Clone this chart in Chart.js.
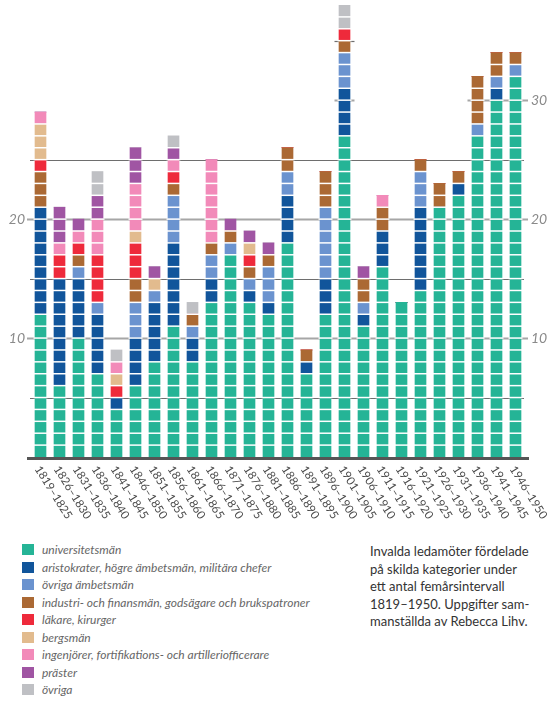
<!DOCTYPE html>
<html>
<head>
<meta charset="utf-8">
<script src="https://cdn.jsdelivr.net/npm/chart.js@4.4.0/dist/chart.umd.min.js"></script>
<style>
  html, body { margin: 0; padding: 0; background: #fff; }
  body { width: 549px; height: 703px; position: relative; overflow: hidden; }
  #chart { position: absolute; left: 0; top: 0; }
  #legend { position: absolute; left: 22px; top: 541px; font-family: Lato, sans-serif; font-style: italic; font-size: 12px; color: #666; }
  #legend div { height: 17.5px; line-height: 17.5px; display: flex; align-items: center; white-space: nowrap; }
  #legend span { display: inline-block; width: 12px; height: 11px; margin-right: 8px; }
  #caption { position: absolute; left: 370px; top: 543px; font-family: Lato, sans-serif; font-size: 13px; line-height: 17.6px; color: #333; }
</style>
</head>
<body>
<canvas id="chart" width="549" height="540"></canvas>
<div id="legend"></div>
<div id="caption">Invalda ledamöter fördelade<br>på skilda kategorier under<br>ett antal femårsintervall<br>1819–1950. Uppgifter sam-<br>manställda av Rebecca Lihv.</div>
<script>
const periods = ['1819–1825', '1826–1830', '1831–1835', '1836–1840', '1841–1845', '1846–1850',
  '1851–1855', '1856–1860', '1861–1865', '1866–1870', '1871–1875', '1876–1880', '1881–1885',
  '1886–1890', '1891–1895', '1896–1900', '1901–1905', '1906–1910', '1911–1915', '1916–1920',
  '1921–1925', '1926–1930', '1931–1935', '1936–1940', '1941–1945', '1946–1950'];

const categories = ['universitetsmän', 'aristokrater, högre ämbetsmän, militära chefer', 'övriga ämbetsmän',
  'industri- och finansmän, godsägare och brukspatroner', 'läkare, kirurger', 'bergsmän',
  'ingenjörer, fortifikations- och artilleriofficerare', 'präster', 'övriga'];

const colors = ['#25b496', '#11559b', '#6b93cf', '#ab6934', '#ee2a3b', '#e2bb8e', '#f28ab9', '#a055a3', '#bfc0c4'];

const universitetsman = [12, 6, 10, 7, 4, 6, 8, 11, 8, 13, 17, 13, 12, 18, 7, 12, 27, 11, 16, 13, 14, 21, 22, 27, 30, 32];
const aristokrater    = [9, 9, 5, 5, 1, 4, 5, 7, 2, 2, 0, 1, 1, 4, 1, 3, 4, 1, 3, 0, 7, 0, 1, 0, 1, 0];
const ovrigaAmbetsman = [0, 0, 1, 1, 0, 3, 1, 4, 1, 2, 1, 1, 3, 2, 0, 6, 3, 1, 0, 0, 3, 0, 0, 1, 1, 1];
const industri        = [3, 0, 1, 0, 0, 2, 0, 1, 1, 1, 1, 1, 1, 2, 1, 3, 1, 2, 2, 0, 1, 2, 1, 4, 2, 1];
const lakare          = [1, 2, 1, 4, 1, 3, 0, 1, 0, 0, 0, 1, 0, 0, 0, 0, 1, 0, 0, 0, 0, 0, 0, 0, 0, 0];
const bergsman        = [3, 0, 0, 0, 1, 1, 1, 0, 0, 0, 0, 1, 0, 0, 0, 0, 0, 0, 0, 0, 0, 0, 0, 0, 0, 0];
const ingenjorer      = [1, 1, 1, 3, 1, 4, 0, 1, 0, 7, 0, 0, 0, 0, 0, 0, 0, 0, 1, 0, 0, 0, 0, 0, 0, 0];
const praster         = [0, 3, 1, 2, 0, 3, 1, 1, 0, 0, 1, 1, 1, 0, 0, 0, 0, 1, 0, 0, 0, 0, 0, 0, 0, 0];
const ovriga          = [0, 0, 0, 2, 1, 0, 0, 1, 1, 0, 0, 0, 0, 0, 0, 0, 2, 0, 0, 0, 0, 0, 0, 0, 0, 0];

const series = [universitetsman, aristokrater, ovrigaAmbetsman, industri, lakare, bergsman, ingenjorer, praster, ovriga];

const gridValues = [5, 10, 15, 20, 25, 30, 35];
const leftLabels = [10, 20];
const rightLabels = [10, 20, 30];

const totals = periods.map((p, i) => series.reduce((s, d) => s + d[i], 0));

const gridPlugin = {
  id: 'grid',
  beforeDatasetsDraw(chart) {
    const { ctx, chartArea, scales: { x, y } } = chart;
    const half = 5.5, ext = 4.5;
    ctx.save();
    gridValues.forEach(v => {
      const py = Math.round(y.getPixelForValue(v)) + 0.5;
      const major = v % 10 === 0;
      ctx.strokeStyle = major ? '#a6a6a6' : '#6e6e6e';
      ctx.lineWidth = major ? 2 : 1.2;
      const segs = [];
      if (v <= 25) {
        segs.push([chartArea.left - (major ? 4 : 1), chartArea.right + (major ? 3 : -1)]);
      } else {
        let start = null;
        totals.forEach((t, i) => {
          const cx = x.getPixelForValue(i);
          if (t > v) {
            if (start === null) start = cx - half - ext;
            if (i === totals.length - 1) { segs.push([start, chartArea.right + 3]); start = null; }
            else if (totals[i + 1] <= v) { segs.push([start, cx + half + ext]); start = null; }
          }
        });
      }
      segs.forEach(([a, b]) => {
        ctx.beginPath();
        ctx.moveTo(a, py);
        ctx.lineTo(b, py);
        ctx.stroke();
      });
    });
    ctx.restore();
  },
  afterDatasetsDraw(chart) {
    const { ctx, chartArea, scales: { x, y } } = chart;
    ctx.save();
    // white separators between unit squares
    ctx.strokeStyle = '#ffffff';
    ctx.lineWidth = 1.5;
    totals.forEach((t, i) => {
      const cx = x.getPixelForValue(i);
      for (let k = 1; k < t; k++) {
        const py = y.getPixelForValue(k);
        ctx.beginPath();
        ctx.moveTo(cx - 7, py);
        ctx.lineTo(cx + 7, py);
        ctx.stroke();
      }
    });
    // baseline
    ctx.fillStyle = '#555555';
    ctx.fillRect(chartArea.left - 4, chartArea.bottom, chartArea.right - chartArea.left + 8, 3);

    // axis numbers
    ctx.font = 'italic 14px Lato, sans-serif';
    ctx.fillStyle = '#8a8a8a';
    ctx.textBaseline = 'middle';
    ctx.textAlign = 'right';
    leftLabels.forEach(v => ctx.fillText(String(v), chartArea.left - 6, y.getPixelForValue(v)));
    ctx.textAlign = 'left';
    rightLabels.forEach(v => ctx.fillText(String(v), chartArea.right + 6, y.getPixelForValue(v)));

    // rotated period labels
    ctx.font = '11.5px Lato, sans-serif';
    ctx.fillStyle = '#4a4a4a';
    ctx.textAlign = 'left';
    ctx.textBaseline = 'middle';
    periods.forEach((p, i) => {
      const cx = x.getPixelForValue(i);
      ctx.save();
      ctx.translate(cx - 3, chartArea.bottom + 10);
      ctx.rotate(58 * Math.PI / 180);
      ctx.fillText(p, 0, 0);
      ctx.restore();
    });
    ctx.restore();
  }
};

const ctx = document.getElementById('chart').getContext('2d');
new Chart(ctx, {
  type: 'bar',
  data: {
    labels: periods,
    datasets: series.map((d, k) => ({
      label: categories[k],
      data: d,
      backgroundColor: colors[k],
      borderWidth: 0,
      barThickness: 11
    }))
  },
  options: {
    responsive: false,
    animation: false,
    layout: { padding: { left: 31, right: 24, top: 5, bottom: 83 } },
    scales: {
      x: { stacked: true, display: false },
      y: { stacked: true, display: false, min: 0, max: 38 }
    },
    plugins: {
      legend: { display: false },
      tooltip: { enabled: false }
    }
  },
  plugins: [gridPlugin]
});

const legend = document.getElementById('legend');
legend.innerHTML = categories.map((c, k) =>
  `<div><span style="background:${colors[k]}"></span>${c}</div>`).join('');
</script>
</body>
</html>
